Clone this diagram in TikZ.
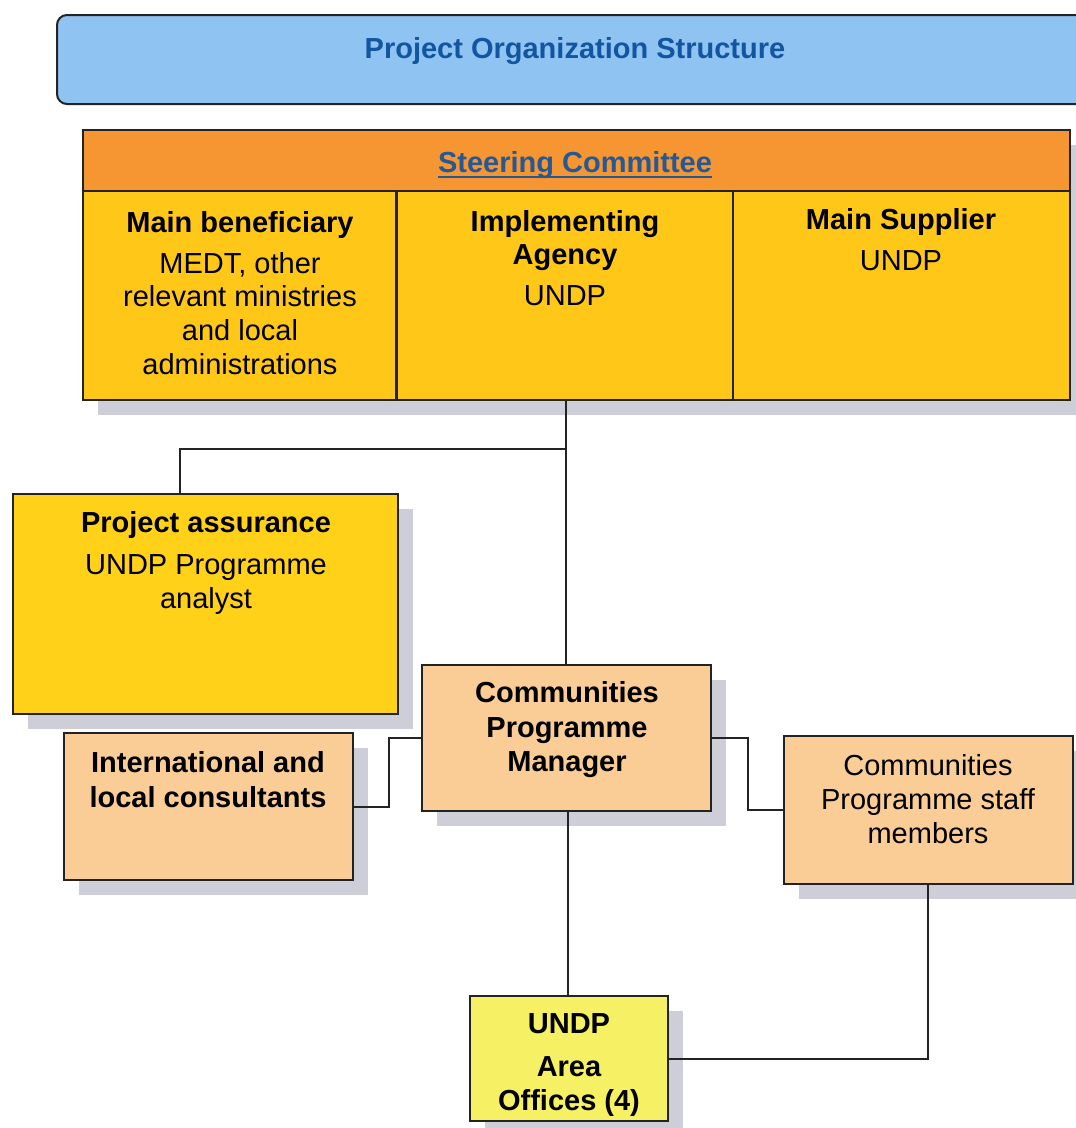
\documentclass[tikz,border=0pt]{standalone}
\usepackage{fontspec}
\setmainfont{Liberation Sans}
\usetikzlibrary{shadows}
\definecolor{bannerfill}{RGB}{143,196,242}
\definecolor{titleblue}{RGB}{18,85,160}
\definecolor{steerblue}{RGB}{38,88,150}
\definecolor{headorange}{RGB}{245,150,50}
\definecolor{cellgold}{RGB}{255,200,25}
\definecolor{pagold}{RGB}{255,210,25}
\definecolor{peach}{RGB}{250,205,150}
\definecolor{areayellow}{RGB}{245,240,100}
\definecolor{shadowc}{RGB}{205,206,216}
\definecolor{edge}{RGB}{35,35,35}
\tikzset{
  box/.style={draw=edge, line width=2pt, rectangle, inner sep=0pt},
  shbox/.style={box, drop shadow={shadow xshift=15pt, shadow yshift=-15pt, fill=shadowc, opacity=1}},
  txt/.style={anchor=base, inner sep=0pt, font=\fontsize{29}{34}\selectfont},
  btxt/.style={txt, font=\fontsize{29}{34}\selectfont\bfseries},
  conn/.style={draw=edge, line width=2pt},
}
\newcommand{\thickul}[1]{\underline{#1}}
\begin{document}
\begin{tikzpicture}[x=1pt,y=-1pt]
\useasboundingbox (0,0) rectangle (1076,1128);
\fill[white] (0,0) rectangle (1076,1128);
% banner
\node[box, fill=bannerfill, rounded corners=10pt, minimum width=1033pt, minimum height=89pt] (banner) at (573.5,59.5) {};
\node[btxt, text=titleblue] (title) at (575,58) {Project Organization Structure};
% steering committee shadow
\fill[shadowc] (98,145) rectangle (1085,415);
\node[box, fill=headorange, minimum width=987pt, minimum height=61pt] (head) at (576.5,160.5) {};
\node[btxt, text=steerblue] (steer) at (575,172) {Steering Committee};
\draw[steerblue, line width=2.5pt] ([yshift=-5pt]steer.base west) -- ([yshift=-5pt]steer.base east);
\node[box, fill=cellgold, minimum width=313pt, minimum height=209pt] (benef) at (239.5,295.5) {};
\node[box, fill=cellgold, minimum width=337pt, minimum height=209pt] (impl) at (565.5,295.5) {};
\node[box, fill=cellgold, minimum width=337pt, minimum height=209pt] (supp) at (901.5,295.5) {};
\node[btxt] (b1) at (240,232) {Main beneficiary};
\node[txt] (b2) at (240,273) {MEDT, other};
\node[txt] (b3) at (240,306) {relevant ministries};
\node[txt] (b4) at (240,340) {and local};
\node[txt] (b5) at (240,374) {administrations};
\node[btxt] (i1) at (565,231) {Implementing};
\node[btxt] (i2) at (565,264) {Agency};
\node[txt] (i3) at (565,305) {UNDP};
\node[btxt] (s1) at (901,229) {Main Supplier};
\node[txt] (s2) at (901,270) {UNDP};
% project assurance
\node[shbox, fill=pagold, minimum width=385pt, minimum height=220pt] (pa) at (205.5,604) {};
\node[btxt] (pa1) at (206,532) {Project assurance};
\node[txt] (pa2) at (206,574) {UNDP Programme};
\node[txt] (pa3) at (206,608) {analyst};
% communities programme manager
\node[shbox, fill=peach, minimum width=289pt, minimum height=146pt] (cpm) at (566,738) {};
\node[btxt] (c1) at (567,702) {Communities};
\node[btxt] (c2) at (567,737) {Programme};
\node[btxt] (c3) at (567,771) {Manager};
% consultants
\node[shbox, fill=peach, minimum width=289pt, minimum height=147pt] (cons) at (208.5,806.5) {};
\node[btxt] (k1) at (208,772) {International and};
\node[btxt] (k2) at (208,807) {local consultants};
% staff
\node[shbox, fill=peach, minimum width=289pt, minimum height=148pt] (staff) at (928,810) {};
\node[txt] (st1) at (928,775) {Communities};
\node[txt] (st2) at (928,809) {Programme staff};
\node[txt] (st3) at (928,843) {members};
% area offices
\node[shbox, fill=areayellow, minimum width=198pt, minimum height=125pt] (area) at (569,1058.5) {};
\node[btxt] (a1) at (569,1033) {UNDP};
\node[btxt] (a2) at (569,1076) {Area};
\node[btxt] (a3) at (569,1110) {Offices (4)};
% connectors
\coordinate (j1) at (impl.south |- 0,449);
\draw[conn] (impl.south) -- (impl.south |- cpm.north);
\draw[conn] (j1) -| ([xshift=-25.5pt]pa.north);
\draw[conn] (cons.east) -- ++(35,0) |- (cpm.west);
\draw[conn] (cpm.east) -- ++(36,0) |- (staff.west);
\draw[conn] ([xshift=2pt]cpm.south) -- ([xshift=2pt]cpm.south |- area.north);
\draw[conn] (staff.south) |- (area.east);
\end{tikzpicture}
\end{document}
